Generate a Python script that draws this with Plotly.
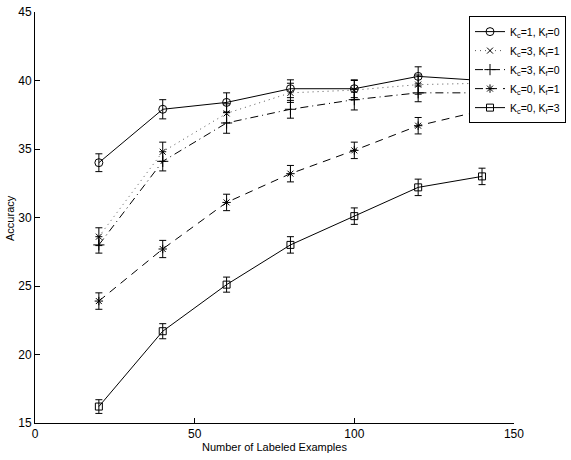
import plotly.graph_objects as go

x_vals = [20, 40, 60, 80, 100, 120, 140]

names = ["K<sub>c</sub>=1, K<sub>f</sub>=0",
         "K<sub>c</sub>=3, K<sub>f</sub>=1",
         "K<sub>c</sub>=3, K<sub>f</sub>=0",
         "K<sub>c</sub>=0, K<sub>f</sub>=1",
         "K<sub>c</sub>=0, K<sub>f</sub>=3"]

acc_c1_f0 = [34.0, 37.9, 38.4, 39.4, 39.4, 40.3, 40.0]
acc_c3_f1 = [28.6, 34.8, 37.6, 39.1, 39.3, 39.7, 39.8]
acc_c3_f0 = [28.0, 34.1, 36.9, 37.9, 38.6, 39.1, 39.1]
acc_c0_f1 = [23.9, 27.7, 31.1, 33.2, 34.9, 36.7, 37.8]
acc_c0_f3 = [16.2, 21.7, 25.1, 28.0, 30.1, 32.2, 33.0]

err_c1_f0 = [0.65, 0.7, 0.7, 0.65, 0.65, 0.7, 0.7]
err_c3_f1 = [0.65, 0.7, 0.7, 0.7, 0.7, 0.7, 0.7]
err_c3_f0 = [0.6, 0.7, 0.75, 0.65, 0.75, 0.65, 0.7]
err_c0_f1 = [0.6, 0.63, 0.6, 0.6, 0.6, 0.6, 0.6]
err_c0_f3 = [0.5, 0.55, 0.55, 0.6, 0.6, 0.6, 0.6]

series = [
    (names[0], acc_c1_f0, err_c1_f0, "circle-open", 8, "solid", "black"),
    (names[1], acc_c3_f1, err_c3_f1, "x-thin-open", 6, "1px,4px", "#555555"),
    (names[2], acc_c3_f0, err_c3_f0, "cross-thin-open", 8, "8px,4px,1px,4px", "black"),
    (names[3], acc_c0_f1, err_c0_f1, "asterisk-open", 7, "8px,6px", "black"),
    (names[4], acc_c0_f3, err_c0_f3, "square-open", 7, "solid", "black"),
]

fig = go.Figure()
for name, y, e, sym, size, dash, lc in series:
    fig.add_trace(go.Scatter(
        x=x_vals, y=y, name=name, mode="lines+markers",
        line=dict(color=lc, width=1, dash=dash),
        marker=dict(symbol=sym, size=size, color="black",
                    line=dict(color="black", width=1)),
        error_y=dict(type="data", array=e, visible=True,
                     color="black", thickness=1, width=3.5),
    ))

fnt = "Liberation Sans, Arial, sans-serif"

fig.update_layout(
    width=571, height=460,
    margin=dict(l=35, r=5, t=12, b=37),
    plot_bgcolor="white", paper_bgcolor="white",
    font=dict(family=fnt, size=12, color="black"),
    showlegend=True,
    legend=dict(
        x=1.0, xanchor="right", y=0.99, yanchor="top",
        bgcolor="white", bordercolor="black", borderwidth=1,
        font=dict(family=fnt, size=10.5, color="black"),
        itemwidth=30, tracegroupgap=0,
    ),
    xaxis=dict(
        domain=[0, 0.902],
        range=[0, 150], tickvals=[0, 50, 100, 150],
        ticks="inside", ticklen=5, tickcolor="black",
        showline=True, linecolor="black", linewidth=1,
        showgrid=False, zeroline=False, automargin=False,
        tickfont=dict(size=12),
    ),
    yaxis=dict(
        range=[15, 45], tickvals=[15, 20, 25, 30, 35, 40, 45],
        ticks="inside", ticklen=5, tickcolor="black",
        showline=True, linecolor="black", linewidth=1,
        showgrid=False, zeroline=False, automargin=False,
        tickfont=dict(size=12),
    ),
    annotations=[
        dict(text="Number of Labeled Examples", xref="paper", yref="paper",
             x=0.451, y=-0.040, xanchor="center", yanchor="top",
             showarrow=False, font=dict(family=fnt, size=11)),
        dict(text="Accuracy", xref="paper", yref="paper",
             x=-0.033, y=0.5, xanchor="right", yanchor="middle", textangle=-90,
             showarrow=False, font=dict(family=fnt, size=11)),
    ],
)

fig.write_html("out.html", config={"displayModeBar": False},
               post_script="document.body.style.margin='0';document.body.style.overflow='hidden';")
